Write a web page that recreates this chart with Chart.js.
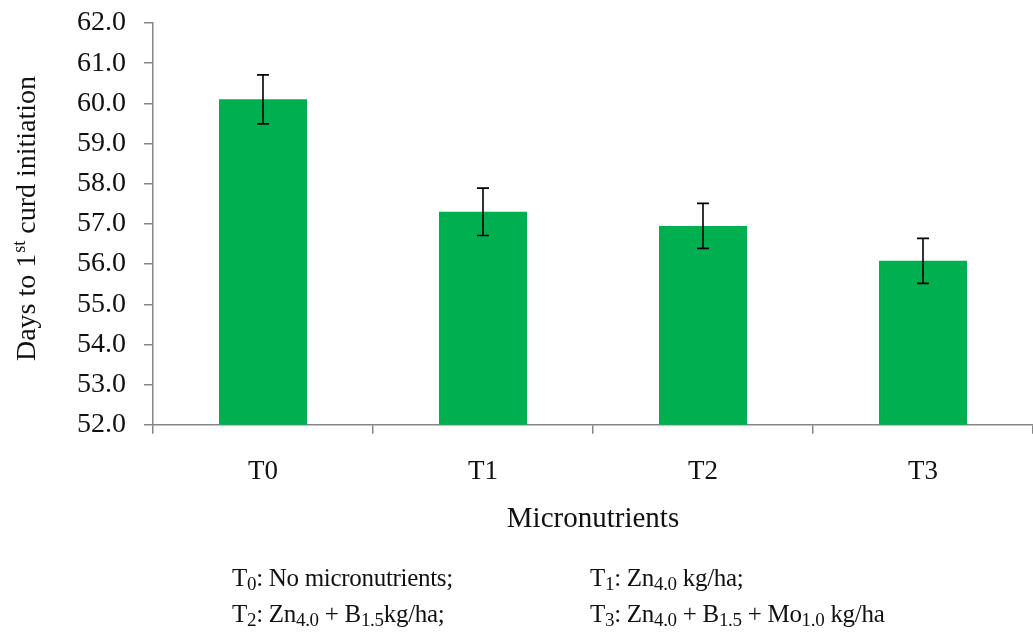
<!DOCTYPE html>
<html>
<head>
<meta charset="utf-8">
<script src="https://cdn.jsdelivr.net/npm/chart.js@4.4.0/dist/chart.umd.min.js"></script>
<style>
  html, body { margin: 0; padding: 0; background: #ffffff; overflow: hidden; }
  #wrap { position: relative; width: 1033px; height: 635px; }
  canvas { position: absolute; left: 0; top: 0; }
  .note { position: absolute; font-family: "Liberation Serif", "Times New Roman", serif; font-size: 25px; line-height: 28px; color: #111; white-space: nowrap; letter-spacing: -0.3px; }
  .note sub { font-size: 0.76em; vertical-align: -0.22em; line-height: 0; }
</style>
</head>
<body>
<div id="wrap">
  <canvas id="c" width="1033" height="635"></canvas>
  <div class="note" style="left:232px; top:564px;">T<sub>0</sub>: No micronutrients;</div>
  <div class="note" style="left:590px; top:564px;">T<sub>1</sub>: Zn<sub>4.0</sub> kg/ha;</div>
  <div class="note" style="left:232px; top:600px;">T<sub>2</sub>: Zn<sub>4.0</sub> + B<sub>1.5</sub>kg/ha;</div>
  <div class="note" style="left:590px; top:600px;">T<sub>3</sub>: Zn<sub>4.0</sub> + B<sub>1.5</sub> + Mo<sub>1.0</sub> kg/ha</div>
</div>
<script>
const categories = ['T0', 'T1', 'T2', 'T3'];
const daysToCurd = [60.1, 57.3, 56.95, 56.08];
const errorValues = [0.61, 0.59, 0.56, 0.56];
const yMin = 52;
const yMax = 62;
const yStep = 1;
const xTitle = 'Micronutrients';
const yTitleParts = ['Days to 1', 'st', ' curd initiation'];

const SERIF = '"Liberation Serif", "Times New Roman", serif';
const AXIS_GRAY = '#868686';

const errorBarPlugin = {
  id: 'errorBars',
  afterDatasetsDraw(chart) {
    const meta = chart.getDatasetMeta(0);
    const yScale = chart.scales.y;
    const ctx = chart.ctx;
    ctx.save();
    ctx.strokeStyle = '#000000';
    ctx.lineWidth = 1.6;
    meta.data.forEach((bar, i) => {
      const v = daysToCurd[i];
      const e = errorValues[i];
      const x = bar.x;
      const yTop = yScale.getPixelForValue(v + e);
      const yBot = yScale.getPixelForValue(v - e);
      const cap = 6;
      ctx.beginPath();
      ctx.moveTo(x, yTop); ctx.lineTo(x, yBot);
      ctx.moveTo(x - cap, yTop); ctx.lineTo(x + cap, yTop);
      ctx.moveTo(x - cap, yBot); ctx.lineTo(x + cap, yBot);
      ctx.stroke();
    });
    ctx.restore();
  }
};

const yTitlePlugin = {
  id: 'yTitle',
  afterDraw(chart) {
    const ctx = chart.ctx;
    const area = chart.chartArea;
    const mainFont = '28px ' + SERIF;
    const supFont = '18px ' + SERIF;
    ctx.save();
    ctx.font = mainFont;
    const w0 = ctx.measureText(yTitleParts[0]).width;
    const w2 = ctx.measureText(yTitleParts[2]).width;
    ctx.font = supFont;
    const w1 = ctx.measureText(yTitleParts[1]).width;
    const total = w0 + w1 + w2;
    const cx = 25;
    const cy = 219;
    ctx.translate(cx, cy);
    ctx.rotate(-Math.PI / 2);
    ctx.fillStyle = '#111111';
    ctx.textBaseline = 'alphabetic';
    ctx.textAlign = 'left';
    let x = -total / 2;
    const base = 10;
    ctx.font = mainFont;
    ctx.fillText(yTitleParts[0], x, base);
    x += w0;
    ctx.font = supFont;
    ctx.fillText(yTitleParts[1], x + 1, base - 10);
    x += w1 + 1;
    ctx.font = mainFont;
    ctx.fillText(yTitleParts[2], x, base);
    ctx.restore();
  }
};

new Chart(document.getElementById('c'), {
  type: 'bar',
  data: {
    labels: categories,
    datasets: [{
      data: daysToCurd,
      backgroundColor: '#00B050',
      borderWidth: 0,
      barPercentage: 0.4,
      categoryPercentage: 1.0
    }]
  },
  options: {
    responsive: false,
    animation: false,
    devicePixelRatio: 1,
    layout: { padding: { left: 0, right: 0, top: 23, bottom: 98 } },
    plugins: {
      legend: { display: false },
      tooltip: { enabled: false }
    },
    scales: {
      x: {
        offset: true,
        grid: { display: true, drawOnChartArea: false, drawTicks: true, tickLength: 9, color: AXIS_GRAY, offset: true, lineWidth: 1.5 },
        border: { display: true, color: AXIS_GRAY, width: 1.5 },
        ticks: { color: '#111111', font: { family: SERIF, size: 27 }, padding: 22 },
        title: { display: true, text: xTitle, color: '#111111', font: { family: SERIF, size: 29 }, padding: { top: -8, bottom: 0 } }
      },
      y: {
        min: yMin,
        max: yMax,
        afterFit(scale) { scale.width = 153; scale.paddingTop = 0; scale.paddingBottom = 0; },
        grid: { display: true, drawOnChartArea: false, drawTicks: true, tickLength: 9, color: AXIS_GRAY, lineWidth: 1.5 },
        border: { display: true, color: AXIS_GRAY, width: 1.5 },
        ticks: {
          stepSize: yStep,
          color: '#111111',
          font: { family: SERIF, size: 28 },
          padding: 18,
          callback: (v) => Number(v).toFixed(1)
        }
      }
    }
  },
  plugins: [errorBarPlugin, yTitlePlugin]
});
</script>
</body>
</html>
